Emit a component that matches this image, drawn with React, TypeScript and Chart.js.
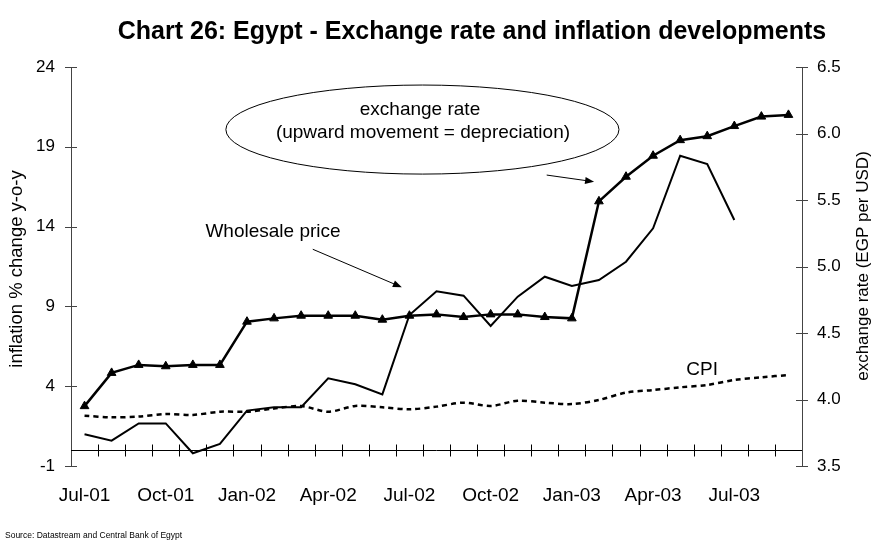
import React, { useEffect, useRef } from 'react';
import { Chart, registerables } from 'chart.js';

Chart.register(...registerables);

const MONTHS = [
  'Jul-01', 'Aug-01', 'Sep-01', 'Oct-01', 'Nov-01', 'Dec-01',
  'Jan-02', 'Feb-02', 'Mar-02', 'Apr-02', 'May-02', 'Jun-02',
  'Jul-02', 'Aug-02', 'Sep-02', 'Oct-02', 'Nov-02', 'Dec-02',
  'Jan-03', 'Feb-03', 'Mar-03', 'Apr-03', 'May-03', 'Jun-03',
  'Jul-03', 'Aug-03', 'Sep-03',
];
const X_LABEL_STEP = 3;

// exchange rate, EGP per USD (right axis)
const EXCHANGE = [
  3.95, 4.2, 4.26, 4.25, 4.26, 4.26,
  4.585, 4.61, 4.63, 4.63, 4.63, 4.6,
  4.63, 4.64, 4.62, 4.64, 4.64, 4.62,
  4.61, 5.49, 5.675, 5.833, 5.95, 5.98,
  6.056, 6.127, 6.14,
];
// wholesale price inflation, % y-o-y (left axis)
const WHOLESALE = [
  0.99, 0.59, 1.67, 1.67, -0.2, 0.38,
  2.47, 2.68, 2.68, 4.49, 4.12, 3.49,
  8.46, 9.95, 9.67, 7.77, 9.61, 10.86,
  10.28, 10.65, 11.8, 13.89, 18.44, 17.92,
  14.41, null, null,
];
// CPI inflation, % y-o-y (left axis)
const CPI = [
  2.15, 2.05, 2.1, 2.26, 2.2, 2.4,
  2.4, 2.6, 2.76, 2.4, 2.76, 2.68,
  2.55, 2.72, 2.97, 2.76, 3.09, 2.97,
  2.88, 3.14, 3.6, 3.76, 3.93, 4.08,
  4.39, 4.56, 4.7,
];

const LEFT_TICKS = [-1, 4, 9, 14, 19, 24];
const RIGHT_TICKS = [3.5, 4, 4.5, 5, 5.5, 6, 6.5];

const TITLE = 'Chart 26: Egypt - Exchange rate and inflation developments';
const LEFT_TITLE = 'inflation % change y-o-y';
const RIGHT_TITLE = 'exchange rate (EGP per USD)';
const SOURCE = 'Source: Datastream and Central Bank of Egypt';
const NOTE_ER = ['exchange rate', '(upward movement = depreciation)'];
const NOTE_WP = 'Wholesale price';
const NOTE_CPI = 'CPI';

const FONT = "'Liberation Sans', Arial, sans-serif";

function arrow(ctx: CanvasRenderingContext2D, x1: number, y1: number, x2: number, y2: number) {
  const ang = Math.atan2(y2 - y1, x2 - x1);
  const len = 9;
  const hw = 3.5;
  ctx.beginPath();
  ctx.moveTo(x1, y1);
  ctx.lineTo(x2 - Math.cos(ang) * len * 0.8, y2 - Math.sin(ang) * len * 0.8);
  ctx.stroke();
  ctx.beginPath();
  ctx.moveTo(x2, y2);
  ctx.lineTo(x2 - Math.cos(ang) * len - Math.sin(ang) * hw, y2 - Math.sin(ang) * len + Math.cos(ang) * hw);
  ctx.lineTo(x2 - Math.cos(ang) * len + Math.sin(ang) * hw, y2 - Math.sin(ang) * len - Math.cos(ang) * hw);
  ctx.closePath();
  ctx.fill();
}

const overlay = {
  id: 'overlay',
  beforeDatasetsDraw(chart: any) {
    const { ctx, chartArea, scales } = chart;
    const x = scales.x;
    const y = scales.y;
    const y2 = scales.y2;
    ctx.save();
    ctx.strokeStyle = '#000';
    ctx.lineWidth = 1;
    const y0 = Math.round(y.getPixelForValue(0)) + 0.5;
    ctx.beginPath();
    ctx.moveTo(chartArea.left, y0);
    ctx.lineTo(chartArea.right, y0);
    const band = x.getPixelForValue(1) - x.getPixelForValue(0);
    for (let i = 1; i < MONTHS.length; i++) {
      const px = Math.round(x.getPixelForValue(i) - band / 2) + 0.5;
      ctx.moveTo(px, y0 - 6);
      ctx.lineTo(px, y0 + 6);
    }
    ctx.stroke();
    ctx.strokeStyle = '#444';
    ctx.beginPath();
    for (const v of LEFT_TICKS) {
      const py = Math.round(y.getPixelForValue(v)) + 0.5;
      ctx.moveTo(chartArea.left - 6, py);
      ctx.lineTo(chartArea.left + 6, py);
    }
    for (const v of RIGHT_TICKS) {
      const py = Math.round(y2.getPixelForValue(v)) + 0.5;
      ctx.moveTo(chartArea.right - 6, py);
      ctx.lineTo(chartArea.right + 6, py);
    }
    ctx.stroke();
    ctx.restore();
  },
  afterDraw(chart: any) {
    const { ctx, scales, width, height } = chart;
    const x = scales.x;
    const y = scales.y;
    const X = (i: number) => x.getPixelForValue(0) + i * (x.getPixelForValue(1) - x.getPixelForValue(0));
    const Y = (v: number) => y.getPixelForValue(v);
    const unitY = Y(0) - Y(1);
    const band = X(1) - X(0);
    ctx.save();
    ctx.fillStyle = '#000';
    ctx.strokeStyle = '#000';

    // title
    ctx.font = `bold 25px ${FONT}`;
    ctx.textAlign = 'center';
    ctx.textBaseline = 'middle';
    ctx.fillText(TITLE, 472, 32);

    // axis titles
    ctx.font = `18.5px ${FONT}`;
    ctx.save();
    ctx.translate(17, 269);
    ctx.rotate(-Math.PI / 2);
    ctx.fillText(LEFT_TITLE, 0, 0);
    ctx.restore();
    ctx.font = `17px ${FONT}`;
    ctx.save();
    ctx.translate(width - 9, 266);
    ctx.rotate(-Math.PI / 2);
    ctx.fillText(RIGHT_TITLE, 0, 0);
    ctx.restore();

    // source
    ctx.font = `8.5px ${FONT}`;
    ctx.textAlign = 'left';
    ctx.fillText(SOURCE, 5, height - 6);

    // ellipse note
    ctx.lineWidth = 1;
    ctx.beginPath();
    ctx.ellipse(X(12.48), Y(20.08), 7.26 * band, 2.79 * unitY, 0, 0, Math.PI * 2);
    ctx.stroke();
    ctx.font = `19px ${FONT}`;
    ctx.textAlign = 'center';
    ctx.fillText(NOTE_ER[0], X(12.39), Y(21.31));
    ctx.fillText(NOTE_ER[1], X(12.5), Y(19.86));

    // wholesale note
    ctx.fillText(NOTE_WP, X(6.96), Y(13.66));
    arrow(ctx, X(8.43), Y(12.58), X(11.72), Y(10.2));

    // exchange-rate arrow
    arrow(ctx, X(17.07), Y(17.23), X(18.82), Y(16.81));

    // CPI note
    ctx.fillText(NOTE_CPI, X(22.81), Y(5.01));
    ctx.restore();
  },
};

export default function App() {
  const ref = useRef<HTMLCanvasElement | null>(null);
  useEffect(() => {
    if (!ref.current) return;
    const chart = new Chart(ref.current, {
      type: 'line',
      data: {
        labels: MONTHS,
        datasets: [
          {
            label: 'Exchange rate',
            data: EXCHANGE,
            yAxisID: 'y2',
            borderColor: '#000',
            backgroundColor: '#000',
            borderWidth: 2.5,
            pointStyle: 'triangle',
            pointRadius: 5,
            pointBorderWidth: 1,
            pointBackgroundColor: '#000',
            pointBorderColor: '#000',
            tension: 0,
          },
          {
            label: 'Wholesale price',
            data: WHOLESALE,
            yAxisID: 'y',
            borderColor: '#000',
            borderWidth: 2,
            pointRadius: 0,
            tension: 0,
            spanGaps: false,
          },
          {
            label: 'CPI',
            data: CPI,
            yAxisID: 'y',
            borderColor: '#000',
            borderWidth: 2.5,
            borderDash: [5, 4],
            pointRadius: 0,
            tension: 0.3,
          },
        ],
      },
      options: {
        responsive: false,
        animation: false,
        events: [],
        layout: { padding: { top: 67, left: 0, right: 0, bottom: 0 } },
        plugins: {
          legend: { display: false },
          tooltip: { enabled: false },
          title: { display: false },
        },
        scales: {
          x: {
            type: 'category',
            offset: true,
            grid: { display: false, drawTicks: false },
            border: { display: false },
            ticks: {
              autoSkip: false,
              maxRotation: 0,
              minRotation: 0,
              padding: 18,
              color: '#000',
              font: { family: FONT, size: 19 },
              callback: (_v: any, i: number) => (i % X_LABEL_STEP === 0 ? MONTHS[i] : ''),
            },
            afterFit: (s: any) => { s.height = 76; },
          },
          y: {
            type: 'linear',
            position: 'left',
            min: -1,
            max: 24,
            grid: { display: false, drawTicks: false },
            border: { display: true, color: '#444', width: 1 },
            ticks: {
              padding: 16,
              color: '#000',
              font: { family: FONT, size: 17 },
            },
            afterBuildTicks: (s: any) => { s.ticks = LEFT_TICKS.map((v) => ({ value: v })); },
            afterFit: (s: any) => { s.width = 71; },
          },
          y2: {
            type: 'linear',
            position: 'right',
            min: 3.5,
            max: 6.5,
            grid: { display: false, drawTicks: false },
            border: { display: true, color: '#444', width: 1 },
            ticks: {
              padding: 15,
              color: '#000',
              font: { family: FONT, size: 17 },
              callback: (v: any) => Number(v).toFixed(1),
            },
            afterBuildTicks: (s: any) => { s.ticks = RIGHT_TICKS.map((v) => ({ value: v })); },
            afterFit: (s: any) => { s.width = 70; },
          },
        },
      },
      plugins: [overlay],
    });
    return () => chart.destroy();
  }, []);
  return (
    <div style={{ position: 'absolute', left: 0, top: 0, width: 872, height: 542, background: '#fff' }}>
      <canvas ref={ref} width={872} height={542} style={{ display: 'block' }} />
    </div>
  );
}
